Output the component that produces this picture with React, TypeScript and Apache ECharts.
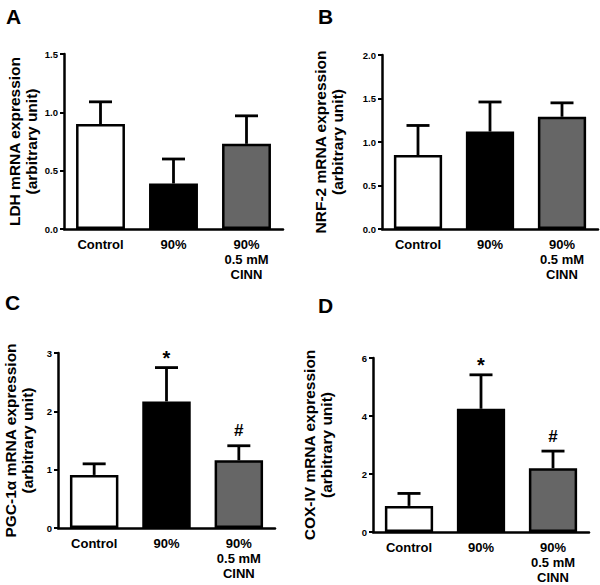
import React, { useEffect, useRef } from "react";
import * as echarts from "echarts";

const categories = ["Control", "90%", "90%\n0.5 mM\nCINN"];
const barColors = ["#ffffff", "#000000", "#666666"];

const ldhMean = [0.9, 0.39, 0.73];
const ldhErr = [0.19, 0.21, 0.24];
const nrf2Mean = [0.85, 1.12, 1.29];
const nrf2Err = [0.34, 0.34, 0.16];
const pgcMean = [0.91, 2.17, 1.16];
const pgcErr = [0.19, 0.58, 0.25];
const coxMean = [0.9, 4.25, 2.2];
const coxErr = [0.43, 1.17, 0.59];
const pgcMarks = ["", "*", "#"];
const coxMarks = ["", "*", "#"];
const noMarks = ["", "", ""];

const panelLetters = ["A", "B", "C", "D"];
const yTitles = [
  "LDH mRNA expression\n(arbitrary unit)",
  "NRF-2 mRNA expression\n(arbitrary unit)",
  "PGC-1\u03b1 mRNA expression\n(arbitrary unit)",
  "COX-IV mRNA expression\n(arbitrary unit)",
];
const yMax = [1.5, 2, 3, 6];
const yInterval = [0.5, 0.5, 1, 2];
const yDecimals = [1, 1, 0, 0];

const FONT = "'Liberation Sans', Arial, sans-serif";

export default function App() {
  const ref = useRef<HTMLDivElement>(null);
  useEffect(() => {
    if (!ref.current) return;
    const chart = echarts.init(ref.current, null, { renderer: "svg" });
    const means = [ldhMean, nrf2Mean, pgcMean, coxMean];
    const errs = [ldhErr, nrf2Err, pgcErr, coxErr];
    const marks = [noMarks, noMarks, pgcMarks, coxMarks];
    const grids = [
      { left: 64, top: 54, width: 219, height: 175 },
      { left: 382, top: 55, width: 216, height: 174 },
      { left: 58, top: 353, width: 217, height: 175 },
      { left: 373, top: 358, width: 216, height: 174 },
    ];
    const nameGaps = [24, 36, 22, 38];
    const letterPos = [
      [6, 16.5],
      [318, 16.5],
      [5, 302.5],
      [318, 305.5],
    ];

    const series: any[] = [];
    for (let p = 0; p < 4; p++) {
      series.push({
        type: "bar",
        xAxisIndex: p,
        yAxisIndex: p,
        barWidth: "67%",
        data: means[p].map((v, i) => ({
          value: v,
          itemStyle: { color: barColors[i], borderColor: "#000", borderWidth: 2.5 },
        })),
        z: 2,
      });
      const m = marks[p];
      series.push({
        type: "custom",
        xAxisIndex: p,
        yAxisIndex: p,
        z: 3,
        data: means[p].map((v, i) => [i, v, errs[p][i], i]),
        encode: { x: 0, y: 1 },
        renderItem: (params: any, api: any) => {
          const x = api.value(0);
          const mean = api.value(1);
          const e = api.value(2);
          const idx = api.value(3);
          const base = api.coord([x, mean]);
          const top = api.coord([x, mean + e]);
          const half = 11.5;
          const style = { stroke: "#000", lineWidth: 2.8 };
          const children: any[] = [
            { type: "line", shape: { x1: base[0], y1: base[1], x2: top[0], y2: top[1] }, style },
            { type: "line", shape: { x1: top[0] - half, y1: top[1], x2: top[0] + half, y2: top[1] }, style },
          ];
          const mk = m[idx];
          if (mk) {
            const star = mk === "*";
            children.push({
              type: "text",
              x: top[0],
              y: star ? top[1] - 10 : top[1] - 15,
              style: {
                text: mk,
                fill: "#000",
                font: `bold ${star ? 20 : 17}px ${FONT}`,
                align: "center",
                verticalAlign: "middle",
              },
            });
          }
          return { type: "group", children };
        },
      });
    }

    chart.setOption({
      animation: false,
      backgroundColor: "#fff",
      grid: grids.map((g) => ({ ...g, containLabel: false })),
      xAxis: grids.map((_, p) => ({
        type: "category",
        gridIndex: p,
        data: categories,
        axisLine: { lineStyle: { color: "#000", width: 2.5 } },
        axisTick: { show: false },
        axisLabel: {
          color: "#000",
          fontFamily: FONT,
          fontWeight: "bold",
          fontSize: 13,
          lineHeight: 15,
          margin: 8,
          interval: 0,
        },
      })),
      yAxis: grids.map((_, p) => ({
        type: "value",
        gridIndex: p,
        min: 0,
        max: yMax[p],
        interval: yInterval[p],
        splitLine: { show: false },
        axisLine: { show: true, lineStyle: { color: "#000", width: 2.5 } },
        axisTick: { show: true, length: 4, lineStyle: { color: "#000", width: 2 } },
        axisLabel: {
          color: "#000",
          fontFamily: FONT,
          fontWeight: "bold",
          fontSize: 9.5,
          margin: 6,
          formatter: (v: number) => v.toFixed(yDecimals[p]),
        },
        name: yTitles[p],
        nameLocation: "middle",
        nameRotate: 90,
        nameGap: nameGaps[p],
        nameTextStyle: {
          color: "#000",
          fontFamily: FONT,
          fontWeight: "bold",
          fontSize: 15.5,
          lineHeight: 17,
        },
      })),
      graphic: panelLetters.map((t, i) => ({
        type: "text",
        x: letterPos[i][0],
        y: letterPos[i][1],
        style: {
          text: t,
          fill: "#000",
          font: `bold 21px ${FONT}`,
          verticalAlign: "middle",
        },
      })),
      series,
    });
    return () => chart.dispose();
  }, []);
  return (
    <div
      ref={ref}
      style={{ position: "fixed", left: 0, top: 0, width: 600, height: 585 }}
    />
  );
}
